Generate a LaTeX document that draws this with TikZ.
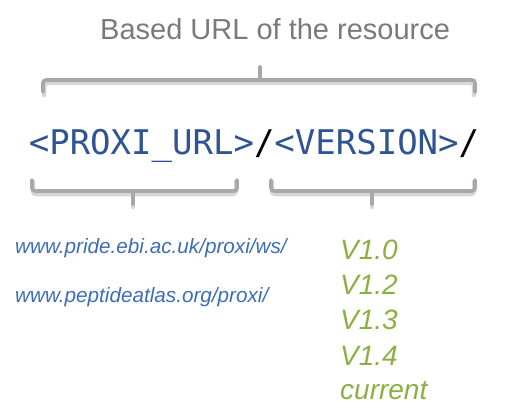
\documentclass[tikz,border=0pt]{standalone}
\usepackage{fontspec}
\setmainfont{Liberation Sans}
\newfontfamily\monofam{DejaVu Sans Mono}
\definecolor{titlegray}{HTML}{7A7A7A}
\definecolor{bracegray}{HTML}{A8A8A8}
\definecolor{shadowgray}{HTML}{D6D6D6}
\definecolor{mainblue}{HTML}{2E5592}
\definecolor{urlblue}{HTML}{3D6DB8}
\definecolor{vgreen}{HTML}{8AB043}
\begin{document}
\begin{tikzpicture}[x=1pt,y=-1pt,
  bracestyle/.style={draw=bracegray,line width=3.6pt,rounded corners=3pt,line cap=round},
  braceshadow/.style={draw=shadowgray,line width=4.5pt,rounded corners=3pt,line cap=round},
  titletext/.style={inner sep=0pt,anchor=base west,text=titlegray,font=\fontsize{29}{34}\selectfont},
  maintext/.style={inner sep=0pt,anchor=base,font=\monofam\fontsize{34}{40}\selectfont},
  urltext/.style={inner sep=0pt,anchor=base west,text=urlblue,font=\itshape\fontsize{20.7}{24}\selectfont},
  vertext/.style={inner sep=0pt,anchor=base west,text=vgreen,font=\itshape\fontsize{28}{32}\selectfont}]
\useasboundingbox (0,0) rectangle (508,417);
% title
\node[titletext] (title) at (100,40) {Based URL of the resource};
% top brace
\draw[braceshadow] (44,95) -- (44,83) -- (474,83) -- (474,95);
\draw[braceshadow] (260,83) -- (260,70);
\draw[bracestyle] (43,92) -- (43,80) -- (475,80) -- (475,92);
\draw[bracestyle] (260,80) -- (260,67);
% main line
\node[maintext] (url) at (254,154) {\textcolor{mainblue}{<PROXI\_URL>}/\textcolor{mainblue}{<VERSION>}/};
% bottom braces
\draw[braceshadow] (33,182) -- (33,194) -- (236,194) -- (236,182);
\draw[braceshadow] (133,194) -- (133,207);
\draw[braceshadow] (272,182) -- (272,194) -- (474,194) -- (474,182);
\draw[braceshadow] (372,194) -- (372,207);
\draw[bracestyle] (32,180) -- (32,191) -- (237,191) -- (237,180);
\draw[bracestyle] (133,191) -- (133,204);
\draw[bracestyle] (271,180) -- (271,191) -- (475,191) -- (475,180);
\draw[bracestyle] (372,191) -- (372,204);
% urls
\node[urltext] (pride) at (15,253) {www.pride.ebi.ac.uk/proxi/ws/};
\node[urltext] (pepatlas) at (15,302) {www.peptideatlas.org/proxi/};
% versions
\node[vertext] (v10) at (340,259) {V1.0};
\node[vertext] (v12) at (340,294) {V1.2};
\node[vertext] (v13) at (340,329) {V1.3};
\node[vertext] (v14) at (340,365) {V1.4};
\node[vertext] (cur) at (340,399) {current};
\end{tikzpicture}
\end{document}
